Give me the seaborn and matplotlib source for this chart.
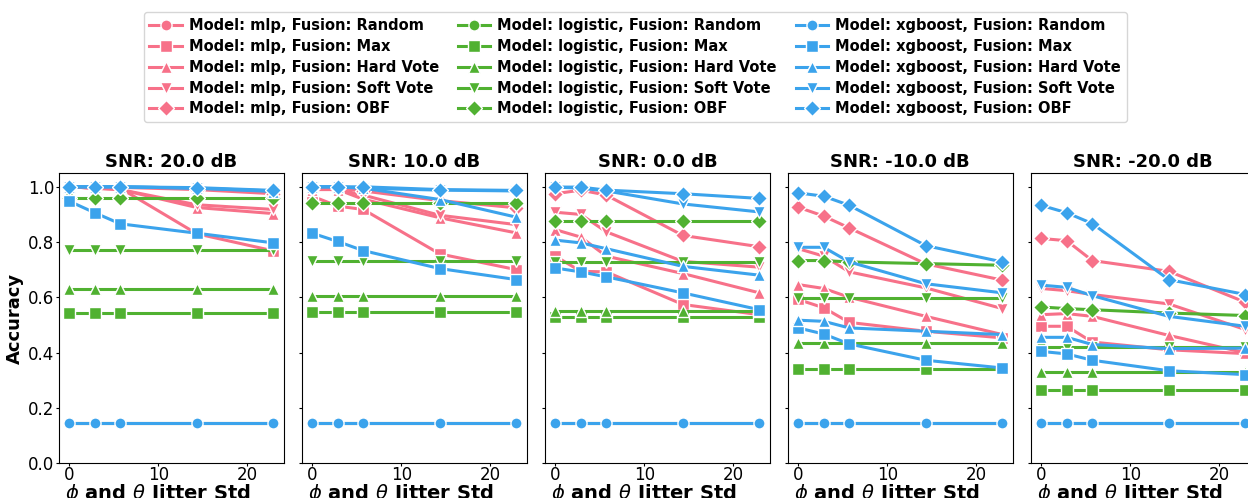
import pandas as pd
import seaborn as sns
import matplotlib.pyplot as plt

# jitter std (degrees) and SNR levels
jitter = [0.0, 2.865, 5.73, 14.32, 22.92]
snrs = [20.0, 10.0, 0.0, -10.0, -20.0]
models = ["mlp", "logistic", "xgboost"]
fusions = ["Random", "Max", "Hard Vote", "Soft Vote", "OBF"]

# accuracy per SNR
mlp_20 = {"Random": [0.143, 0.143, 0.143, 0.143, 0.143],
          "Max": [1.0, 0.995, 0.995, 0.83, 0.768],
          "Hard Vote": [1.0, 0.995, 0.99, 0.925, 0.903],
          "Soft Vote": [1.0, 0.995, 0.99, 0.935, 0.918],
          "OBF": [1.0, 0.998, 0.998, 0.99, 0.975]}
logistic_20 = {"Random": [0.143, 0.143, 0.143, 0.143, 0.143],
               "Max": [0.543, 0.543, 0.543, 0.543, 0.543],
               "Hard Vote": [0.631, 0.631, 0.631, 0.631, 0.631],
               "Soft Vote": [0.772, 0.772, 0.772, 0.772, 0.772],
               "OBF": [0.958, 0.958, 0.958, 0.958, 0.958]}
xgboost_20 = {"Random": [0.143, 0.143, 0.143, 0.143, 0.143],
              "Max": [0.948, 0.906, 0.866, 0.832, 0.797],
              "Hard Vote": [1.0, 1.0, 1.0, 0.995, 0.983],
              "Soft Vote": [1.0, 1.0, 1.0, 0.995, 0.985],
              "OBF": [1.0, 1.0, 1.0, 0.997, 0.987]}

mlp_10 = {"Random": [0.143, 0.143, 0.143, 0.143, 0.143],
          "Max": [0.966, 0.93, 0.918, 0.757, 0.70],
          "Hard Vote": [0.99, 0.99, 0.955, 0.888, 0.833],
          "Soft Vote": [0.995, 0.99, 0.97, 0.897, 0.863],
          "OBF": [0.995, 0.995, 0.985, 0.95, 0.924]}
logistic_10 = {"Random": [0.143, 0.143, 0.143, 0.143, 0.143],
               "Max": [0.548, 0.548, 0.548, 0.548, 0.548],
               "Hard Vote": [0.604, 0.604, 0.604, 0.604, 0.604],
               "Soft Vote": [0.730, 0.730, 0.730, 0.730, 0.730],
               "OBF": [0.941, 0.941, 0.941, 0.941, 0.941]}
xgboost_10 = {"Random": [0.143, 0.143, 0.143, 0.143, 0.143],
              "Max": [0.832, 0.802, 0.769, 0.704, 0.664],
              "Hard Vote": [1.0, 1.0, 0.995, 0.954, 0.89],
              "Soft Vote": [1.0, 1.0, 0.995, 0.988, 0.985],
              "OBF": [1.0, 1.0, 1.0, 0.99, 0.987]}

mlp_0 = {"Random": [0.143, 0.143, 0.143, 0.143, 0.143],
         "Max": [0.749, 0.694, 0.692, 0.574, 0.537],
         "Hard Vote": [0.845, 0.818, 0.749, 0.686, 0.616],
         "Soft Vote": [0.908, 0.90, 0.837, 0.730, 0.709],
         "OBF": [0.975, 0.988, 0.970, 0.824, 0.783]}
logistic_0 = {"Random": [0.143, 0.143, 0.143, 0.143, 0.143],
              "Max": [0.528, 0.528, 0.528, 0.528, 0.528],
              "Hard Vote": [0.552, 0.552, 0.552, 0.552, 0.552],
              "Soft Vote": [0.727, 0.727, 0.727, 0.727, 0.727],
              "OBF": [0.878, 0.878, 0.878, 0.878, 0.878]}
xgboost_0 = {"Random": [0.143, 0.143, 0.143, 0.143, 0.143],
             "Max": [0.706, 0.692, 0.674, 0.616, 0.555],
             "Hard Vote": [0.807, 0.797, 0.776, 0.712, 0.680],
             "Soft Vote": [0.999, 0.995, 0.985, 0.938, 0.909],
             "OBF": [0.999, 0.999, 0.988, 0.975, 0.958]}

mlp_m10 = {"Random": [0.143, 0.143, 0.143, 0.143, 0.143],
           "Max": [0.592, 0.562, 0.509, 0.477, 0.453],
           "Hard Vote": [0.646, 0.632, 0.600, 0.531, 0.465],
           "Soft Vote": [0.776, 0.749, 0.692, 0.634, 0.559],
           "OBF": [0.926, 0.894, 0.851, 0.721, 0.662]}
logistic_m10 = {"Random": [0.143, 0.143, 0.143, 0.143, 0.143],
                "Max": [0.34, 0.34, 0.34, 0.34, 0.34],
                "Hard Vote": [0.435, 0.435, 0.435, 0.435, 0.435],
                "Soft Vote": [0.598, 0.598, 0.598, 0.598, 0.598],
                "OBF": [0.733, 0.733, 0.728, 0.722, 0.716]}
xgboost_m10 = {"Random": [0.143, 0.143, 0.143, 0.143, 0.143],
               "Max": [0.489, 0.467, 0.431, 0.372, 0.344],
               "Hard Vote": [0.517, 0.513, 0.489, 0.477, 0.465],
               "Soft Vote": [0.781, 0.781, 0.728, 0.649, 0.616],
               "OBF": [0.978, 0.966, 0.933, 0.787, 0.728]}

mlp_m20 = {"Random": [0.143, 0.143, 0.143, 0.143, 0.143],
           "Max": [0.495, 0.495, 0.438, 0.410, 0.396],
           "Hard Vote": [0.537, 0.541, 0.531, 0.462, 0.399],
           "Soft Vote": [0.632, 0.624, 0.610, 0.576, 0.483],
           "OBF": [0.813, 0.805, 0.733, 0.694, 0.582]}
logistic_m20 = {"Random": [0.143, 0.143, 0.143, 0.143, 0.143],
                "Max": [0.265, 0.265, 0.265, 0.265, 0.265],
                "Hard Vote": [0.331, 0.331, 0.331, 0.331, 0.331],
                "Soft Vote": [0.420, 0.420, 0.420, 0.420, 0.420],
                "OBF": [0.565, 0.559, 0.555, 0.543, 0.534]}
xgboost_m20 = {"Random": [0.143, 0.143, 0.143, 0.143, 0.143],
               "Max": [0.404, 0.395, 0.372, 0.334, 0.320],
               "Hard Vote": [0.455, 0.455, 0.429, 0.414, 0.416],
               "Soft Vote": [0.644, 0.636, 0.606, 0.531, 0.495],
               "OBF": [0.933, 0.906, 0.867, 0.664, 0.610]}

results = {
    20.0: {"mlp": mlp_20, "logistic": logistic_20, "xgboost": xgboost_20},
    10.0: {"mlp": mlp_10, "logistic": logistic_10, "xgboost": xgboost_10},
    0.0: {"mlp": mlp_0, "logistic": logistic_0, "xgboost": xgboost_0},
    -10.0: {"mlp": mlp_m10, "logistic": logistic_m10, "xgboost": xgboost_m10},
    -20.0: {"mlp": mlp_m20, "logistic": logistic_m20, "xgboost": xgboost_m20},
}

#%%
rows = []
for snr in snrs:
    for m in models:
        for f in fusions:
            for j, acc in zip(jitter, results[snr][m][f]):
                rows.append({"snr": snr, "jitter": j, "model": m, "fusion": f,
                             "label": f"Model: {m}, Fusion: {f}", "acc": acc})
df = pd.DataFrame(rows)

model_colors = dict(zip(models, sns.color_palette("husl", 3)))
fusion_markers = dict(zip(fusions, ["o", "s", "^", "v", "D"]))
labels = [f"Model: {m}, Fusion: {f}" for m in models for f in fusions]
palette = {f"Model: {m}, Fusion: {f}": model_colors[m] for m in models for f in fusions}
markers = {f"Model: {m}, Fusion: {f}": fusion_markers[f] for m in models for f in fusions}

#%%
fig = plt.figure(figsize=(12.48, 4.98), dpi=100, facecolor="white")
left, step, width = 0.0473, 0.1947, 0.180
bottom, height = 0.0703, 0.5823
axes = []
for i, snr in enumerate(snrs):
    ax = fig.add_axes([left + i * step, bottom, width, height],
                      sharey=axes[0] if axes else None)
    sns.lineplot(
        data=df[df["snr"] == snr], x="jitter", y="acc",
        hue="label", style="label", hue_order=labels, style_order=labels,
        palette=palette, markers=markers, dashes=False,
        linewidth=2.2, markersize=8, markeredgecolor="white", markeredgewidth=1,
        legend=(i == 0), ax=ax,
    )
    ax.set_title(f"SNR: {snr} dB", fontsize=13, fontweight="bold", pad=4)
    ax.set_xlabel(r"$\phi$ and $\theta$ Jitter Std", fontsize=14, fontweight="bold")
    ax.xaxis.set_label_coords(0.44, -0.066)
    ax.set_xticks([0, 10, 20])
    ax.tick_params(labelsize=12, length=2.5, pad=1)
    ax.tick_params(axis="x", pad=0)
    ax.set_ylim(0, 1.05)
    if i == 0:
        ax.set_ylabel("Accuracy", fontsize=13, fontweight="bold", labelpad=3)
    else:
        ax.set_ylabel("")
        ax.tick_params(labelleft=False)
    axes.append(ax)

leg = axes[0].get_legend()
handles = leg.legend_handles
texts = [t.get_text() for t in leg.get_texts()]
leg.remove()
fig.legend(handles, texts, loc="upper center", bbox_to_anchor=(0.509, 0.99),
           ncol=3, prop={"weight": "bold", "size": 10.5}, columnspacing=1.3,
           labelspacing=0.4, handletextpad=0.5, handlelength=2.2)

plt.savefig("out.png", dpi=100)
plt.close()
